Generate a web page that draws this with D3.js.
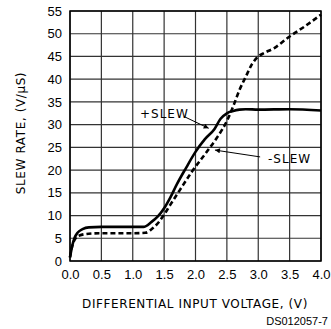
<!DOCTYPE html>
<html><head><meta charset="utf-8">
<script src="https://cdn.jsdelivr.net/npm/d3@7"></script>
<style>body{margin:0;background:#fff}svg{display:block}</style>
</head><body>
<svg id="c" width="331" height="329"></svg>
<script>
const xTicks = [0,0.5,1,1.5,2,2.5,3,3.5,4];
const yTicks = [0,5,10,15,20,25,30,35,40,45,50,55];
const posV = [0,0.03,0.07,0.12,0.2,0.3,0.5,1.0,1.17,1.3,1.4,1.5,1.6,1.7,1.85,2.0,2.15,2.3,2.4,2.5,2.6,2.7,2.8,3.0,3.5,4.0];
const posS = [0.8,3,5,6.2,7.0,7.4,7.5,7.5,7.5,8.6,9.8,11.6,14,16.8,20.5,24,26.8,29,31.3,32.5,33.0,33.3,33.4,33.3,33.4,33.1];
const negV = [0,0.03,0.08,0.15,0.3,0.5,1.0,1.2,1.3,1.4,1.5,1.6,1.75,1.95,2.2,2.35,2.5,2.6,2.7,2.8,2.9,3.0,3.1,3.25,3.5,3.75,4.0];
const negS = [0.8,3,4.8,5.6,6.0,6.1,6.1,6.2,7,8.3,10.2,12.4,15.6,19.8,24.4,27.3,30.8,34,37.6,40.5,43.3,45,45.8,46.8,49.4,51.7,54.2];
const labels = ["+SLEW","-SLEW"];

const svg = d3.select("#c");
const x = d3.scaleLinear().domain([0,4]).range([70,321]);
const y = d3.scaleLinear().domain([0,55]).range([261,11]);

// grid
svg.append("g").selectAll("line").data(xTicks).join("line")
  .attr("x1",d=>x(d)).attr("x2",d=>x(d)).attr("y1",y(0)).attr("y2",y(55))
  .attr("stroke","#333").attr("stroke-width",1.2);
svg.append("g").selectAll("line").data(yTicks).join("line")
  .attr("y1",d=>y(d)).attr("y2",d=>y(d)).attr("x1",x(0)).attr("x2",x(4))
  .attr("stroke","#333").attr("stroke-width",1.2);

// axes labels
const xa = svg.append("g").attr("transform",`translate(0,${y(0)})`)
  .call(d3.axisBottom(x).tickValues(xTicks).tickFormat(d3.format(".1f")).tickSize(0).tickPadding(9));
const ya = svg.append("g").attr("transform",`translate(${x(0)},0)`)
  .call(d3.axisLeft(y).tickValues(yTicks).tickSize(0).tickPadding(8));
[xa,ya].forEach(a=>{a.select(".domain").remove();
  a.selectAll("text").attr("font-family","Liberation Sans, Arial, sans-serif").attr("font-size",13).attr("fill","#000");});

const line = d3.line().x(d=>x(d[0])).y(d=>y(d[1])).curve(d3.curveMonotoneX);
svg.append("path").datum(negV.map((v,i)=>[v,negS[i]])).attr("d",line)
  .attr("fill","none").attr("stroke","#000").attr("stroke-width",2.6).attr("stroke-dasharray","5,3");
svg.append("path").datum(posV.map((v,i)=>[v,posS[i]])).attr("d",line)
  .attr("fill","none").attr("stroke","#000").attr("stroke-width",2.6);

// frame
svg.append("rect").attr("x",x(0)).attr("y",y(55)).attr("width",x(4)-x(0)).attr("height",y(0)-y(55))
  .attr("fill","none").attr("stroke","#000").attr("stroke-width",1.5);

// annotations
svg.append("defs").append("marker").attr("id","ah").attr("viewBox","0 0 10 10")
  .attr("refX",10).attr("refY",5).attr("markerWidth",7).attr("markerHeight",5).attr("orient","auto")
  .attr("markerUnits","userSpaceOnUse")
  .append("path").attr("d","M0,0L10,5L0,10z").attr("fill","#000");
const lf = "DejaVu Sans, sans-serif";
const ann = svg.append("g").attr("font-family",lf).attr("font-size",12).attr("fill","#000");
ann.append("text").attr("x",140).attr("y",118).attr("letter-spacing",1).text(labels[0]);
ann.append("text").attr("x",268).attr("y",163).attr("letter-spacing",1).text(labels[1]);
svg.append("line").attr("x1",x(1.83)).attr("y1",y(31.7)).attr("x2",x(2.21)).attr("y2",y(29.2))
  .attr("stroke","#000").attr("stroke-width",1).attr("marker-end","url(#ah)");
svg.append("line").attr("x1",x(3.03)).attr("y1",y(22.9)).attr("x2",x(2.31)).attr("y2",y(24.4))
  .attr("stroke","#000").attr("stroke-width",1).attr("marker-end","url(#ah)");

// titles
svg.append("text").attr("x",195).attr("y",308).attr("text-anchor","middle")
  .attr("font-family",lf).attr("font-size",12).attr("letter-spacing",0.6).text("DIFFERENTIAL INPUT VOLTAGE, (V)");
svg.append("text").attr("transform","translate(25,133) rotate(-90)").attr("text-anchor","middle")
  .attr("font-family",lf).attr("font-size",12).attr("letter-spacing",0.6).text("SLEW RATE, (V/\u00B5S)");
svg.append("text").attr("x",328).attr("y",325).attr("text-anchor","end")
  .attr("font-family","Liberation Sans, Arial, sans-serif").attr("font-size",11).text("DS012057-7");
</script>
</body></html>
